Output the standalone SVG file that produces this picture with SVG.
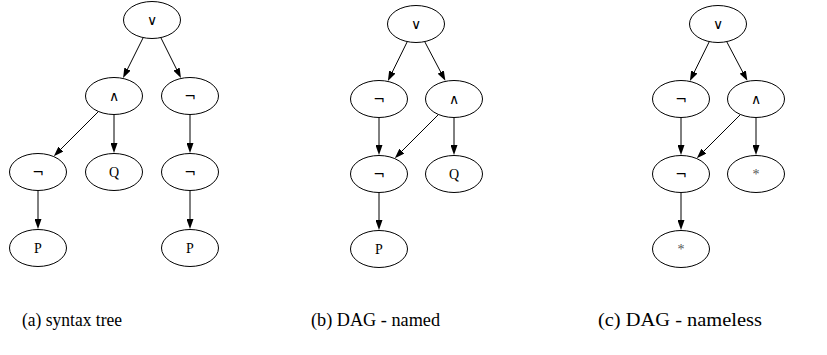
<svg xmlns="http://www.w3.org/2000/svg" width="827" height="355" viewBox="0 0 827 355">
<style>
ellipse{fill:none;stroke:#000;stroke-width:1}
.e{stroke:#000;stroke-width:1;fill:none;marker-end:url(#ah)}
.sym{font-family:"DejaVu Sans",sans-serif;font-size:14px;text-anchor:middle}
.lt{font-family:"Liberation Serif",serif;font-size:14px;text-anchor:middle}
.st{font-family:"Liberation Serif",serif;font-size:14px;text-anchor:middle;fill:#555}
.cap{font-family:"Liberation Serif","Times New Roman",serif;font-size:19px}
</style>
<defs>
<marker id="ah" markerUnits="userSpaceOnUse" markerWidth="10" markerHeight="7" refX="0" refY="3.5" orient="auto">
<path d="M0,0 L10,3.5 L0,7 z" fill="#000"/>
</marker>
</defs>
<rect width="827" height="355" fill="#fff"/>
<g id="connectors">
<line class="e" x1="143" y1="38" x2="127.5" y2="69.1"/>
<line class="e" x1="161" y1="38" x2="176.5" y2="69.1"/>
<line class="e" x1="98.2" y1="111.8" x2="60.9" y2="149.1"/>
<line class="e" x1="114" y1="115" x2="114" y2="143"/>
<line class="e" x1="190" y1="115" x2="190" y2="143"/>
<line class="e" x1="38" y1="191" x2="38" y2="219"/>
<line class="e" x1="190" y1="191" x2="190" y2="219"/>
<line class="e" x1="407.1" y1="42" x2="392.3" y2="72"/>
<line class="e" x1="424.9" y1="42" x2="440.7" y2="72"/>
<line class="e" x1="379" y1="118" x2="379" y2="145"/>
<line class="e" x1="438.2" y1="114.8" x2="401.9" y2="151.1"/>
<line class="e" x1="454" y1="118" x2="454" y2="145"/>
<line class="e" x1="379" y1="193" x2="379" y2="220"/>
<line class="e" x1="709.1" y1="42" x2="694.3" y2="72"/>
<line class="e" x1="726.9" y1="42" x2="742.7" y2="72"/>
<line class="e" x1="681" y1="118" x2="681" y2="145"/>
<line class="e" x1="740.2" y1="114.8" x2="703.9" y2="151.1"/>
<line class="e" x1="756" y1="118" x2="756" y2="145"/>
<line class="e" x1="681" y1="193" x2="681" y2="220"/>
</g>
<g id="a_or"><ellipse cx="152" cy="20" rx="28.5" ry="18.5"/><text class="sym" x="152" y="25">∨</text></g>
<g id="a_and"><ellipse cx="114" cy="96" rx="28.5" ry="18.5"/><text class="sym" x="114" y="101">∧</text></g>
<g id="a_not1"><ellipse cx="190" cy="96" rx="28.5" ry="18.5"/><text class="sym" x="190" y="101">¬</text></g>
<g id="a_not2"><ellipse cx="38" cy="172" rx="28.5" ry="18.5"/><text class="sym" x="38" y="177">¬</text></g>
<g id="a_q"><ellipse cx="114" cy="172" rx="28.5" ry="18.5"/><text class="lt" x="114" y="177">Q</text></g>
<g id="a_not3"><ellipse cx="190" cy="172" rx="28.5" ry="18.5"/><text class="sym" x="190" y="177">¬</text></g>
<g id="a_p1"><ellipse cx="38" cy="248" rx="28.5" ry="18.5"/><text class="lt" x="38" y="253">P</text></g>
<g id="a_p2"><ellipse cx="190" cy="248" rx="28.5" ry="18.5"/><text class="lt" x="190" y="253">P</text></g>

<g id="b_or"><ellipse cx="416" cy="24" rx="28.5" ry="18.5"/><text class="sym" x="416" y="29">∨</text></g>
<g id="b_not1"><ellipse cx="379" cy="99" rx="28.5" ry="18.5"/><text class="sym" x="379" y="104">¬</text></g>
<g id="b_and"><ellipse cx="454" cy="99" rx="28.5" ry="18.5"/><text class="sym" x="454" y="104">∧</text></g>
<g id="b_not2"><ellipse cx="379" cy="174" rx="28.5" ry="18.5"/><text class="sym" x="379" y="179">¬</text></g>
<g id="b_q"><ellipse cx="454" cy="174" rx="28.5" ry="18.5"/><text class="lt" x="454" y="179">Q</text></g>
<g id="b_p"><ellipse cx="379" cy="249" rx="28.5" ry="18.5"/><text class="lt" x="379" y="254">P</text></g>

<g id="c_or"><ellipse cx="718" cy="24" rx="28.5" ry="18.5"/><text class="sym" x="718" y="29">∨</text></g>
<g id="c_not1"><ellipse cx="681" cy="99" rx="28.5" ry="18.5"/><text class="sym" x="681" y="104">¬</text></g>
<g id="c_and"><ellipse cx="756" cy="99" rx="28.5" ry="18.5"/><text class="sym" x="756" y="104">∧</text></g>
<g id="c_not2"><ellipse cx="681" cy="174" rx="28.5" ry="18.5"/><text class="sym" x="681" y="179">¬</text></g>
<g id="c_star1"><ellipse cx="756" cy="174" rx="28.5" ry="18.5"/><text class="st" x="756" y="179">*</text></g>
<g id="c_star2"><ellipse cx="681" cy="249" rx="28.5" ry="18.5"/><text class="st" x="681" y="254">*</text></g>

<g id="captions">
<text class="cap" x="22" y="326" textLength="100" lengthAdjust="spacingAndGlyphs">(a) syntax tree</text>
<text class="cap" x="311" y="326" textLength="129" lengthAdjust="spacingAndGlyphs">(b) DAG - named</text>
<text class="cap" x="598" y="326" textLength="164" lengthAdjust="spacingAndGlyphs">(c) DAG - nameless</text>
</g>
</svg>
